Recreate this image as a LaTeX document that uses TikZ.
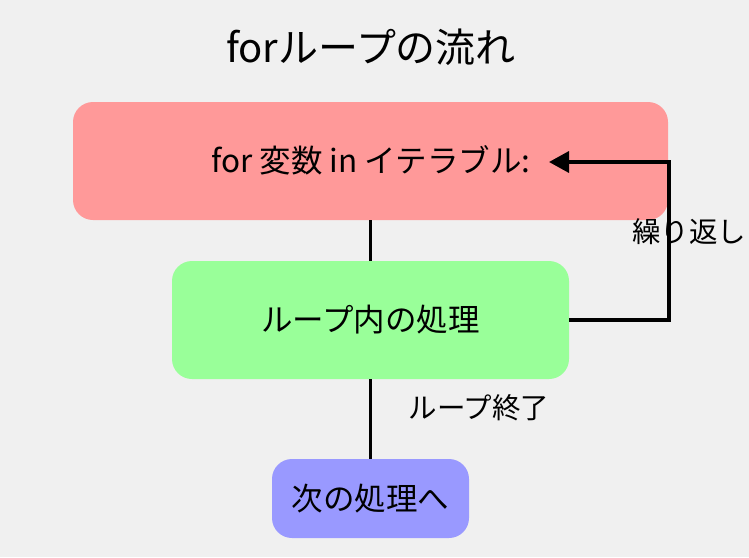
\documentclass[tikz,border=0pt]{standalone}
\usepackage{fontspec}
\setmainfont{Noto Sans CJK JP}
\usetikzlibrary{arrows.meta}
\definecolor{bgc}{HTML}{F0F0F0}
\definecolor{redc}{HTML}{FF9999}
\definecolor{greenc}{HTML}{99FF99}
\definecolor{bluec}{HTML}{9999FF}
\tikzset{
  box/.style={rounded corners=20pt, inner sep=0pt, draw=none},
  conn/.style={line width=3.5pt, black},
  bodytext/.style={font=\fontsize{31.5}{36}\selectfont},
  lbl/.style={font=\fontsize{28.5}{32}\selectfont, inner sep=0pt}
}
\begin{document}
\begin{tikzpicture}[x=1pt,y=-1pt]
\fill[bgc] (0,0) rectangle (749,557);
\useasboundingbox (0,0) rectangle (749,557);
\node[inner sep=0pt, font=\fontsize{40}{46}\selectfont] (title) at (371,47) {forループの流れ};
\node[box, fill=redc, minimum width=595pt, minimum height=118pt] (red) at (370.5,161) {};
\node[bodytext, inner sep=0pt] (redtext) at (371,160) {for 変数 in イテラブル:};
\node[box, fill=greenc, minimum width=397pt, minimum height=118pt, bodytext] (green) at (370.5,320) {ループ内の処理};
\node[box, fill=bluec, minimum width=197pt, minimum height=79pt, bodytext] (blue) at (370.5,498.5) {次の処理へ};
\coordinate (loopturn) at (669,162);
\coordinate (loopend) at (549,162);
\draw[conn] (red) -- (green);
\draw[conn] (green) -- (blue);
\node[lbl] (lblend) at (479,408) {ループ終了};
\node[lbl] (lblrep) at (689,232) {繰り返し};
\draw[conn, -{Triangle[length=20pt,width=21pt]}] (green.east) -| (loopturn) -- (loopend);
\end{tikzpicture}
\end{document}
